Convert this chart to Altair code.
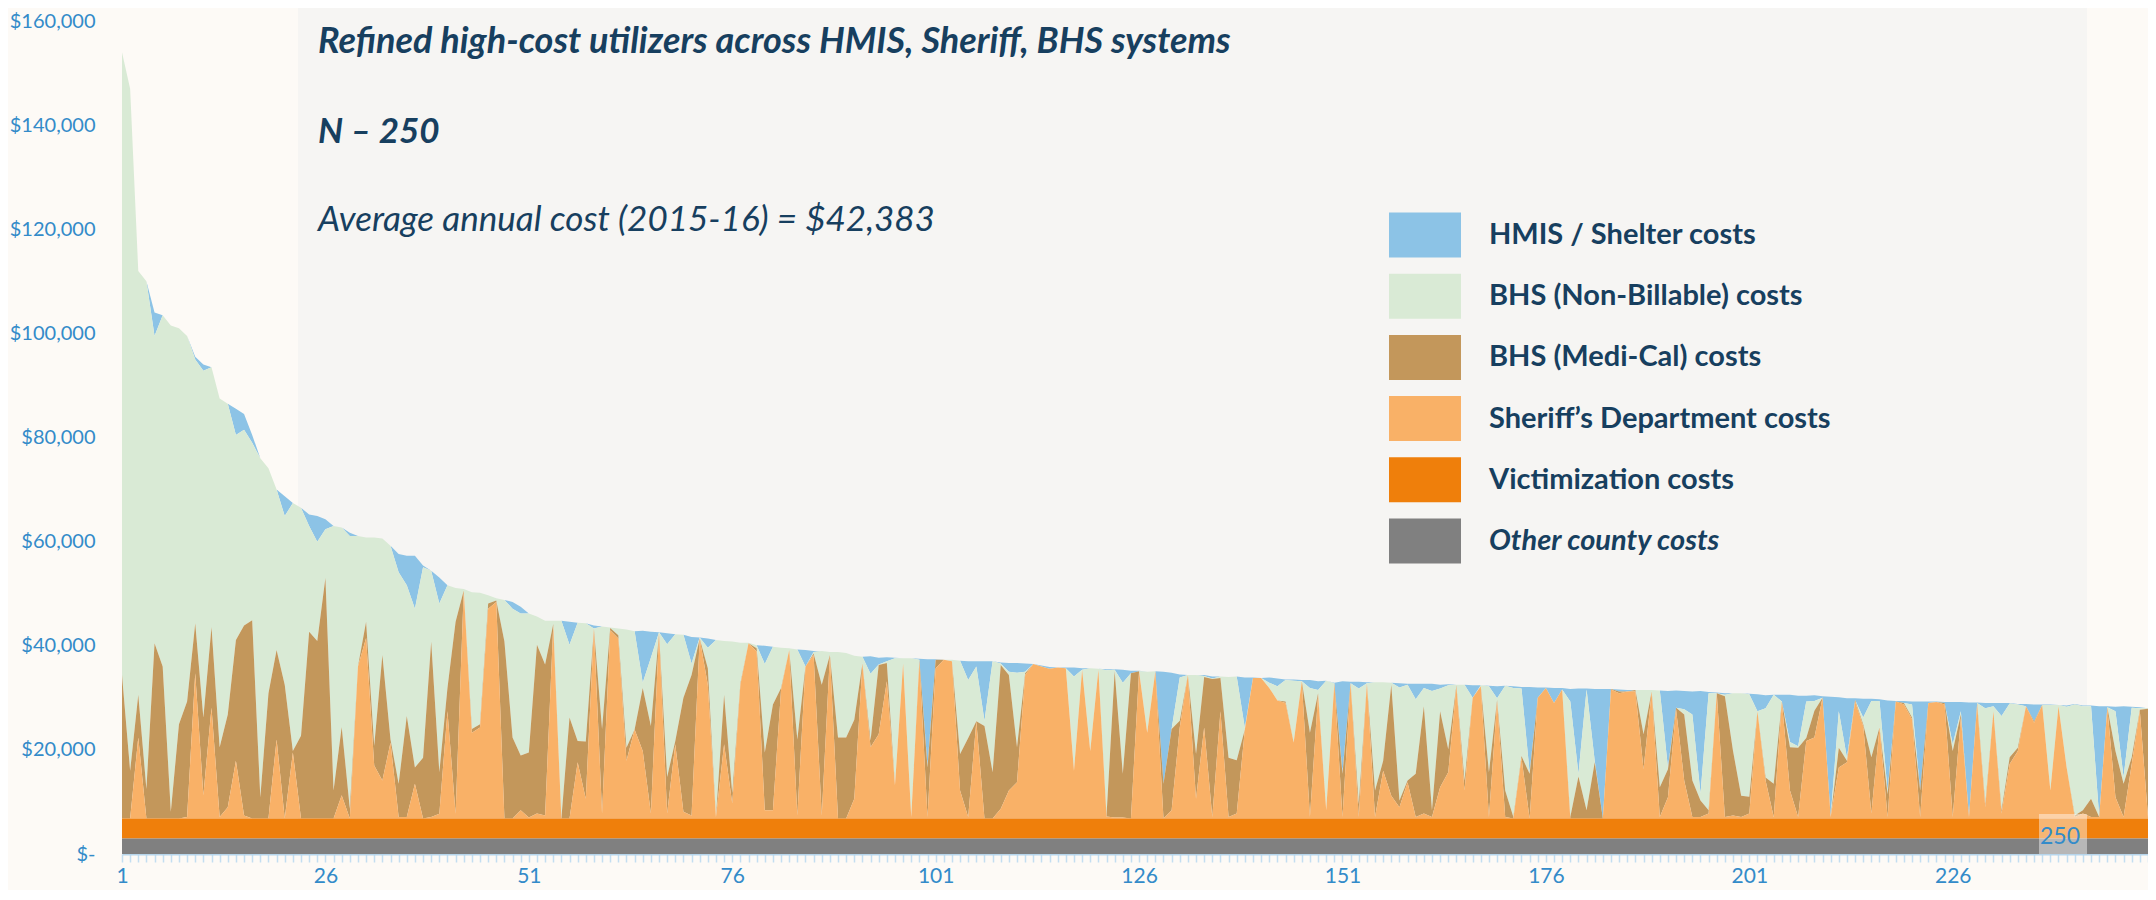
import altair as alt
import pandas as pd

categories = list(range(1, 251))

sheriff = [
    0, 0, 15600, 0, 0, 0, 0, 0, 300, 27900,
    4500, 21300, 300, 2200, 11100, 600, 0, 0, 0, 15200,
    0, 12700, 0, 0, 0, 0, 0, 4500, 0, 29200,
    34700, 10200, 7300, 14600, 300, 300, 6700, 0, 300, 950,
    20600, 950, 43800, 16500, 17500, 40300, 41600, 0, 0, 1600,
    200, 1000, 600, 37100, 0, 0, 10800, 3800, 36500, 1000,
    36200, 34600, 11100, 17100, 13000, 1000, 35600, 1000, 14300, 1300,
    600, 34600, 25700, 300, 14300, 2900, 25700, 33700, 32100, 1600,
    1600, 24800, 32400, 600, 29200, 31400, 600, 31400, 0, 0,
    3800, 29800, 13700, 16200, 26400, 6400, 29800, 300, 30200, 300,
    28900, 30500, 30200, 5400, 300, 18700, 0, 0, 1900, 5400,
    7000, 27600, 29700, 29200, 28800, 29000, 28900, 9200, 28600, 13000,
    28600, 400, 200, 200, 0, 28300, 16500, 28300, 0, 1600,
    17500, 27600, 3800, 17500, 300, 20600, 300, 1000, 17100, 27000,
    27000, 25100, 22700, 22200, 14600, 26400, 300, 23800, 1600, 26000,
    300, 26000, 300, 26000, 300, 9200, 4400, 2200, 7000, 300,
    1000, 300, 6000, 8900, 25400, 5400, 23200, 25400, 300, 22500,
    300, 0, 11700, 0, 23200, 25100, 22200, 24800, 0, 0,
    0, 0, 0, 24800, 24100, 24400, 24400, 9500, 24400, 300,
    4100, 21000, 7300, 300, 300, 1000, 24100, 300, 600, 300,
    1000, 20600, 7300, 300, 22500, 5400, 300, 14900, 15600, 23200,
    300, 9800, 10800, 22500, 17800, 1000, 17500, 300, 22500, 21900,
    19100, 300, 22200, 22400, 21900, 300, 19400, 300, 21900, 2200,
    20600, 1000, 10500, 13000, 21600, 18400, 21800, 5400, 21600, 9800,
    300, 1000, 300, 300, 21300, 4100, 300, 10500, 20600, 300,
]

medi_cal = [
    27600, 9200, 8200, 5700, 33700, 29200, 1300, 18100, 22200, 9600,
    14900, 15500, 13400, 17800, 23200, 36500, 38100, 4100, 24100, 17200,
    25700, 300, 15900, 35900, 34100, 46200, 5400, 13100, 1900, 0,
    3100, 3800, 24100, 600, 6400, 19400, 3100, 11700, 33700, 7950,
    4500, 36850, 0, 700, 600, 1000, 300, 34000, 15600, 10500,
    12500, 32400, 29000, 300, 0, 19400, 4100, 11000, 0, 16200,
    400, 600, 2500, 0, 12100, 16800, 0, 7000, 600, 21900,
    27000, 0, 3200, 0, 9500, 1900, 300, 0, 600, 11100,
    20300, 300, 0, 14600, 0, 300, 25100, 0, 15600, 15600,
    15200, 0, 1300, 13300, 3500, 0, 0, 0, 300, 9500,
    1600, 0, 0, 7000, 15200, 0, 17800, 8900, 27600, 22200,
    6700, 300, 0, 0, 0, 0, 0, 0, 0, 0,
    0, 200, 28100, 8400, 27900, 0, 0, 0, 6700, 15600,
    1300, 0, 8600, 9700, 26500, 6400, 11400, 10200, 0, 0,
    0, 0, 0, 300, 0, 0, 16200, 300, 0, 0,
    8300, 0, 2500, 0, 5100, 1900, 21300, 1300, 300, 8300,
    20600, 1300, 14600, 4400, 200, 1900, 0, 0, 8600, 300,
    5100, 300, 300, 8600, 0, 0, 0, 0, 300, 8100,
    1600, 10800, 0, 100, 300, 0, 300, 6700, 0, 5700,
    5400, 300, 12700, 7000, 3200, 600, 0, 23200, 12400, 4100,
    3200, 0, 600, 6400, 0, 8300, 13300, 600, 5100, 0,
    0, 3800, 300, 300, 300, 10800, 0, 4400, 0, 300,
    300, 5100, 0, 0, 300, 12700, 600, 0, 300, 600,
    0, 600, 1300, 600, 0, 300, 0, 0, 0, 0,
    300, 600, 3500, 0, 100, 8900, 6400, 1300, 300, 20800,
]

non_billable = [
    119600, 131000, 81400, 97500, 59000, 67500, 93400, 76100, 70200, 50700,
    66600, 49900, 67000, 59700, 39400, 37600, 34100, 65100, 43200, 30800,
    32400, 47600, 43800, 20300, 19100, 9400, 50800, 38300, 52400, 25100,
    16200, 40000, 22400, 37200, 40600, 25100, 30500, 36600, 13600, 32400,
    19700, 6500, 300, 26300, 25300, 1600, 400, 8000, 24700, 27300,
    26700, 5400, 8400, 600, 38000, 14000, 22700, 22700, 0, 19700,
    100, 1300, 22700, 18900, 1000, 13100, 200, 25500, 20500, 12100,
    2200, 200, 3900, 34000, 10300, 29200, 7800, 100, 600, 17000,
    11100, 7700, 300, 17300, 0, 300, 6500, 600, 16400, 16200,
    12300, 1300, 12800, 100, 300, 24400, 1000, 30500, 0, 300,
    0, 0, 300, 17900, 11100, 10500, 1000, 21300, 300, 600,
    14300, 300, 0, 0, 0, 0, 0, 18100, 0, 15900,
    200, 27900, 300, 17500, 0, 0, 11700, 0, 0, 0,
    8300, 0, 15200, 200, 100, 300, 15500, 16100, 300, 0,
    0, 1000, 2700, 4100, 11900, 0, 8600, 600, 24900, 0,
    300, 0, 22200, 0, 20800, 15100, 400, 21700, 18400, 14300,
    3500, 22900, 4400, 12300, 100, 18400, 0, 200, 16500, 300,
    20100, 24800, 13000, 300, 0, 0, 0, 0, 22200, 500,
    23200, 300, 0, 0, 0, 0, 0, 8500, 300, 18600,
    300, 0, 1000, 12700, 1300, 22500, 0, 300, 11100, 19700,
    19700, 0, 13300, 17100, 0, 1000, 300, 7000, 1900, 0,
    0, 7000, 600, 0, 1300, 10800, 5100, 600, 0, 0,
    2500, 0, 0, 0, 0, 1300, 600, 0, 0, 18400,
    1000, 18100, 10300, 8300, 0, 0, 0, 16400, 200, 11700,
    21300, 20000, 17800, 0, 0, 7600, 1300, 9500, 300, 100,
]

hmis = [
    0, 0, 0, 0, 4500, 0, 0, 0, 0, 500,
    1200, 0, 0, 0, 5000, 3000, 1500, 0, 0, 0,
    3800, 0, 0, 2200, 4900, 1900, 0, 0, 600, 0,
    0, 0, 0, 0, 3500, 5700, 10200, 300, 0, 5000,
    0, 0, 0, 0, 0, 0, 0, 0, 1300, 1300,
    0, 0, 0, 0, 0, 4400, 0, 0, 600, 0,
    0, 0, 0, 0, 10000, 5000, 0, 2100, 0, 0,
    5100, 0, 1800, 0, 0, 0, 0, 0, 0, 3500,
    0, 0, 0, 0, 3200, 200, 0, 0, 0, 0,
    0, 0, 3400, 1300, 800, 100, 0, 0, 200, 20500,
    100, 0, 0, 0, 3600, 1000, 11400, 0, 200, 1700,
    1900, 1600, 0, 200, 300, 0, 100, 1700, 300, 0,
    0, 200, 100, 2500, 500, 100, 0, 0, 21500, 10800,
    600, 0, 0, 200, 400, 0, 0, 0, 9700, 100,
    0, 1000, 1500, 100, 200, 200, 1500, 1700, 0, 100,
    17500, 300, 1300, 200, 0, 0, 0, 800, 200, 3000,
    800, 1400, 700, 200, 0, 0, 2400, 0, 100, 2300,
    0, 300, 300, 16400, 2000, 100, 2900, 300, 2400, 16400,
    200, 13800, 24900, 0, 400, 300, 0, 0, 0, 0,
    14700, 3300, 3500, 4400, 19700, 200, 100, 300, 0, 0,
    100, 3300, 2500, 0, 1300, 9100, 9700, 1100, 1100, 300,
    23100, 2700, 11400, 300, 3600, 400, 300, 17400, 100, 400,
    600, 17100, 300, 100, 200, 8100, 1800, 22000, 100, 1000,
    600, 2500, 100, 100, 400, 3200, 100, 100, 0, 200,
    100, 100, 100, 21300, 200, 900, 13600, 200, 200, 0,
]

# constant bands
victimization = [3800] * len(categories)
other_county = [3000] * len(categories)

series_names = [
    "HMIS / Shelter costs",
    "BHS (Non-Billable) costs",
    "BHS (Medi-Cal) costs",
    "Sheriff\u2019s Department costs",
    "Victimization costs",
    "Other county costs",
]
series_colors = ["#8cc3e6", "#d9ead5", "#c3975b", "#f9b167", "#ef7f0b", "#808080"]
stack_position = [5, 4, 3, 2, 1, 0]
series_values = [hmis, non_billable, medi_cal, sheriff, victimization, other_county]

for v in series_values:
    assert len(v) == len(categories), len(v)

rows = []
for name, pos, vals in zip(series_names, stack_position, series_values):
    for c, v in zip(categories, vals):
        rows.append({"person": c, "cost": v, "series": name, "pos": pos})
df = pd.DataFrame(rows)

title_line = "Refined high-cost utilizers across HMIS, Sheriff, BHS systems"
n_line = "N \u2013 250"
avg_line = "Average annual cost (2015-16) = $42,383"
end_label = "250"

W, H = 2026, 833
TEXT = "#173f5f"
AXIS_BLUE = "#338bc9"
FONT = "Lato"

panel = alt.Chart(pd.DataFrame({"a": [0]})).mark_rect(color="#f6f5f3").encode(
    x=alt.value(176), x2=alt.value(1965), y=alt.value(-14), y2=alt.value(H)
)

areas = alt.Chart(df).mark_area(interpolate="linear", opacity=1).encode(
    x=alt.X(
        "person:Q",
        scale=alt.Scale(domain=[1, 250], nice=False, zero=False),
        axis=alt.Axis(
            values=categories,
            labelExpr="(datum.value - 1) % 25 == 0 ? datum.value : ''",
            labelOverlap=False,
            labelFlush=False,
            title=None,
            grid=False,
            domainColor="#b7d6ec",
            domainWidth=2,
            tickColor="#c3def1",
            tickSize=8,
            tickWidth=1.5,
            labelColor=AXIS_BLUE,
            labelFont=FONT,
            labelFontSize=21,
            labelPadding=3,
        ),
    ),
    y=alt.Y(
        "cost:Q",
        stack="zero",
        scale=alt.Scale(domain=[0, 160000], nice=False),
        axis=alt.Axis(
            values=[0, 20000, 40000, 60000, 80000, 100000, 120000, 140000, 160000],
            labelExpr="datum.value == 0 ? '$-' : '$' + format(datum.value, ',')",
            title=None,
            grid=False,
            domain=False,
            ticks=False,
            labelColor=AXIS_BLUE,
            labelFont=FONT,
            labelFontSize=20,
            labelPadding=27,
        ),
    ),
    color=alt.Color(
        "series:N",
        scale=alt.Scale(domain=series_names, range=series_colors),
        legend=alt.Legend(
            orient="none",
            legendX=1267,
            legendY=178,
            title=None,
            symbolType="M-1,-0.625H1V0.625H-1Z",
            symbolSize=5184,
            symbolStrokeWidth=0,
            symbolOpacity=1,
            labelFont=FONT,
            labelFontSize=29,
            labelFontWeight="bold",
            labelFontStyle={"expr": "datum.value === 'Other county costs' ? 'italic' : 'normal'"},
            labelColor=TEXT,
            labelOffset=28,
            labelLimit=700,
            rowPadding=2.2,
            padding=0,
        ),
    ),
    order=alt.Order("pos:Q", sort="ascending"),
)


def text_layer(txt, x, y, size, weight="normal", style="normal", color=TEXT):
    return alt.Chart(pd.DataFrame({"t": [txt]})).mark_text(
        align="left", baseline="alphabetic", font=FONT, fontSize=size,
        fontWeight=weight, fontStyle=style, color=color,
    ).encode(text="t:N", x=alt.value(x), y=alt.value(y))


title_t = text_layer(title_line, 196, 32, 36, "bold", "italic")
n_t = text_layer(n_line, 196, 122, 35, "bold", "italic")
avg_t = text_layer(avg_line, 196, 210, 35, "normal", "italic")

end_box = alt.Chart(pd.DataFrame({"a": [0]})).mark_rect(color="#ffffff", opacity=0.43).encode(
    x=alt.value(1917), x2=alt.value(1965), y=alt.value(793), y2=alt.value(833)
)
end_t = text_layer(end_label, 1918, 823, 23, color=AXIS_BLUE)

chart = alt.layer(panel, areas, end_box, end_t, title_t, n_t, avg_t).properties(
    width=W,
    height=H,
    background="#fdfaf6",
    padding={"left": 114, "top": 13, "right": 0, "bottom": 36},
    autosize=alt.AutoSizeParams(type="none"),
).configure_view(strokeWidth=0)

chart.save("out.html", embed_options={"renderer": "svg", "actions": False})
